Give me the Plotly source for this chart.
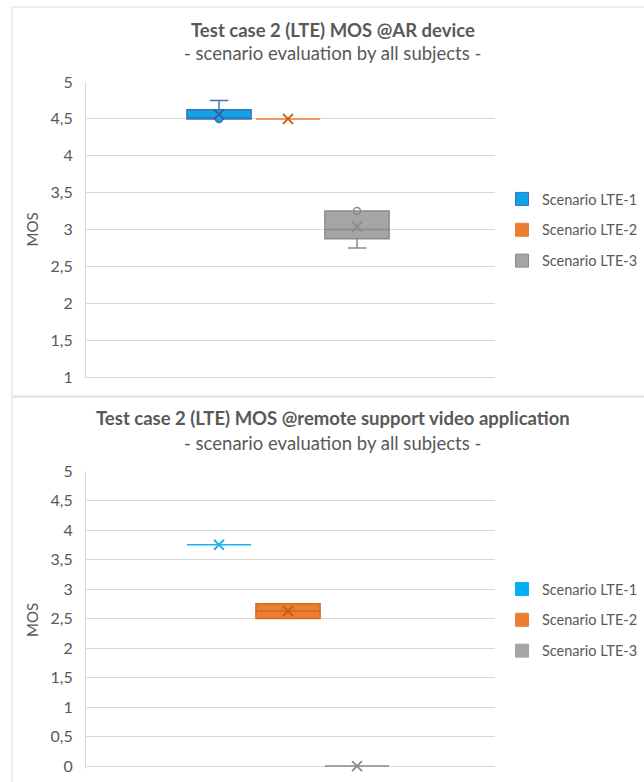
import plotly.graph_objects as go

# ---------------- data ----------------
series = ["Scenario LTE-1", "Scenario LTE-2", "Scenario LTE-3"]

# Panel 1: MOS @AR device
ar_q1 = [4.5, 4.5, 2.875]
ar_median = [4.5, 4.5, 3.0]
ar_q3 = [4.625, 4.5, 3.25]
ar_low = [4.5, 4.5, 2.75]
ar_high = [4.75, 4.5, 3.25]
ar_mean = [4.56, 4.5, 3.04]
ar_points = [[4.5], [], [3.25]]

# Panel 2: MOS @remote support video application
rs_q1 = [3.75, 2.5, 0.0]
rs_median = [3.75, 2.625, 0.0]
rs_q3 = [3.75, 2.75, 0.0]
rs_low = [3.75, 2.5, 0.0]
rs_high = [3.75, 2.75, 0.0]
rs_mean = [3.75, 2.625, 0.0]
rs_points = [[], [], []]

titles = ["Test case 2 (LTE) MOS @AR device",
          "Test case 2 (LTE) MOS @remote support video application"]
subtitle = "- scenario evaluation by all subjects -"

# ---------------- styling ----------------
FONT = "Lato"
TXT = "#595959"
GRID = "#D9D9D9"
W, H = 644, 782

fills = [["#12A3E6", "#ED7D31", "#A5A5A5"],
         ["#1FB1EC", "#ED7D31", "#A5A5A5"]]
lines = [["#3A74B4", "#ED7D31", "#8A8A8A"],
         ["#1FB1EC", "#D46A22", "#8A8A8A"]]
meancol = [["#2F5F9E", "#C55A11", "#8A8A8A"],
           ["#1FB1EC", "#C55A11", "#8A8A8A"]]
legcol = [["#12A3E6", "#ED7D31", "#A5A5A5"],
          ["#00B0F0", "#ED7D31", "#A5A5A5"]]

def py(px):  # pixel-from-top -> paper y
    return 1 - px / H

def pxx(px):
    return px / W

fig = go.Figure()

panels = [
    dict(q1=ar_q1, med=ar_median, q3=ar_q3, lo=ar_low, hi=ar_high, mean=ar_mean,
         pts=ar_points, xa="x", ya="y", legend="legend"),
    dict(q1=rs_q1, med=rs_median, q3=rs_q3, lo=rs_low, hi=rs_high, mean=rs_mean,
         pts=rs_points, xa="x2", ya="y2", legend="legend2"),
]

for p_i, p in enumerate(panels):
    for i, name in enumerate(series):
        pos = i + 1
        fig.add_trace(go.Box(
            x=[pos], q1=[p["q1"][i]], median=[p["med"][i]], q3=[p["q3"][i]],
            lowerfence=[p["lo"][i]], upperfence=[p["hi"][i]],
            width=0.93, whiskerwidth=0.29,
            fillcolor=fills[p_i][i], line=dict(color=lines[p_i][i], width=1.5),
            boxpoints=False, showlegend=False, name=name,
            xaxis=p["xa"], yaxis=p["ya"]))
        if p["pts"][i]:
            fig.add_trace(go.Scatter(
                x=[pos] * len(p["pts"][i]), y=p["pts"][i], mode="markers",
                marker=dict(symbol="circle", size=7,
                            color=fills[p_i][i] if i == 0 else "rgba(255,255,255,0)",
                            line=dict(color=lines[p_i][i], width=1.5)),
                showlegend=False, xaxis=p["xa"], yaxis=p["ya"], cliponaxis=False))
        fig.add_trace(go.Scatter(
            x=[pos], y=[p["mean"][i]], mode="markers",
            marker=dict(symbol="x-thin", size=10,
                        line=dict(color=meancol[p_i][i], width=1.8)),
            showlegend=False, xaxis=p["xa"], yaxis=p["ya"], cliponaxis=False))
        # legend entries (square swatches)
        fig.add_trace(go.Scatter(
            x=[None], y=[None], mode="markers", name=name,
            marker=dict(symbol="square", size=13, color=legcol[p_i][i],
                        line=dict(color=lines[p_i][i] if p_i == 0 else legcol[p_i][i], width=1)),
            legend=p["legend"], legendgroup=f"{p_i}-{i}",
            xaxis=p["xa"], yaxis=p["ya"]))

xdom = [pxx(86), pxx(495)]
xrange_ = [-0.928, 5.0]

yaxis_common = dict(
    showgrid=True, gridcolor=GRID, gridwidth=1, zeroline=False,
    showline=True, linecolor=GRID, linewidth=1, dtick=0.5,
    tickfont=dict(family=FONT, size=16, color=TXT),
    ticks="", ticklabelstandoff=9, automargin=False,
    title=dict(text="MOS", font=dict(family=FONT, size=15, color=TXT), standoff=8),
)
xaxis_common = dict(range=xrange_, domain=xdom, showgrid=False, zeroline=False,
                    showticklabels=False, ticks="", fixedrange=True, automargin=False)

legend_common = dict(xanchor="left", yanchor="middle", bgcolor="rgba(0,0,0,0)",
                     font=dict(family=FONT, size=14.5, color=TXT),
                     tracegroupgap=9, itemwidth=30)

fig.update_layout(
    width=W, height=H, margin=dict(l=0, r=0, t=0, b=0, pad=0, autoexpand=False),
    paper_bgcolor="white", plot_bgcolor="white",
    separators=", ",
    font=dict(family=FONT, color=TXT),
    xaxis=dict(**xaxis_common, anchor="y", showline=True, linecolor=GRID),
    yaxis=dict(**yaxis_common, domain=[py(377), py(82)], range=[1, 5], anchor="x"),
    xaxis2=dict(**xaxis_common, anchor="y2", showline=False),
    yaxis2=dict(**yaxis_common, domain=[py(769), py(471)], range=[-0.05, 5], anchor="x2"),
    legend=dict(x=pxx(502), y=py(230), **legend_common),
    legend2=dict(x=pxx(502), y=py(620), **legend_common),
    showlegend=True,
)

# titles
title_y = [(30, 53), (418, 443)]
for t, (ty, sy) in zip(titles, title_y):
    fig.add_annotation(text=f"<b>{t}</b>", x=pxx(333), y=py(ty), xref="paper", yref="paper",
                       xanchor="center", yanchor="middle", showarrow=False,
                       font=dict(family=FONT, size=18.5, color=TXT))
    fig.add_annotation(text=subtitle, x=pxx(333), y=py(sy), xref="paper", yref="paper",
                       xanchor="center", yanchor="middle", showarrow=False,
                       font=dict(family=FONT, size=18.5, color=TXT))

# panel borders
fig.add_shape(type="rect", xref="paper", yref="paper",
              x0=pxx(12), x1=pxx(660), y0=py(396), y1=py(7),
              line=dict(color=GRID, width=1), layer="below")
fig.add_shape(type="rect", xref="paper", yref="paper",
              x0=pxx(12), x1=pxx(660), y0=py(800), y1=py(397),
              line=dict(color=GRID, width=1), layer="below")

fig.write_html("out.html",
               config={"displayModeBar": False},
               post_script="document.body.style.margin='0';"
                           "document.documentElement.style.overflow='hidden';")
